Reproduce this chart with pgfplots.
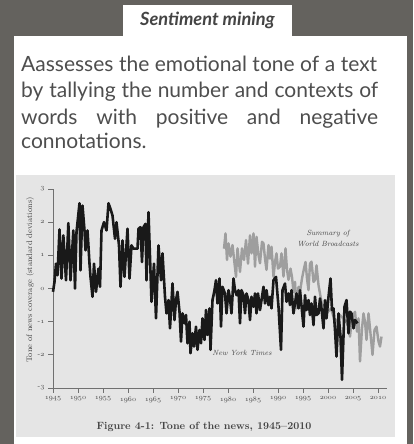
\documentclass[border=0pt]{standalone}
\usepackage{pgfplots}
\pgfplotsset{compat=1.18}
\usepackage{fontspec}
\newfontfamily\lato{Lato}
\definecolor{bgdark}{HTML}{64625E}
\definecolor{chartbg}{HTML}{E5E5E5}
\definecolor{txt}{HTML}{4E4E4E}
\definecolor{ctxt}{HTML}{444444}
\definecolor{swb}{HTML}{9E9E9E}
\definecolor{axisgray}{HTML}{707070}
\newcommand\osf[1]{{\usefont{OML}{cmm}{m}{it}#1}}

\pgfplotstableread{
year tone
1945.0 -0.1
1945.3 0.2
1945.6 0.75
1945.9 0.4
1946.3 1.78
1946.7 0.3
1947.07 1.6
1947.6 0.25
1948.07 1.97
1948.5 0.25
1949.07 1.75
1949.4 0.0
1949.7 1.7
1950.3 2.57
1950.5 0.55
1950.9 2.5
1951.3 1.75
1951.5 1.15
1951.9 1.75
1952.3 0.75
1952.5 0.35
1952.9 -0.25
1953.2 0.75
1953.6 -0.1
1954.1 0.6
1954.4 0.05
1954.7 1.75
1955.2 2.0
1955.7 1.75
1956.1 2.57
1956.5 2.4
1956.9 2.2
1957.4 1.5
1957.7 2.0
1958.2 1.3
1958.5 0.05
1958.9 1.45
1959.3 0.35
1959.9 1.8
1960.3 0.3
1960.7 1.3
1961.1 1.2
1961.9 1.2
1962.1 1.8
1962.5 1.85
1962.8 0.8
1963.1 1.85
1963.5 1.95
1963.7 0.25
1964.1 2.3
1964.4 0.95
1964.7 -0.4
1965.2 0.75
1965.6 -0.9
1966.1 1.3
1966.6 0.25
1966.9 1.06
1967.4 -0.25
1967.7 -0.75
1968.1 -0.35
1968.4 -1.2
1968.9 0.15
1969.3 -0.95
1969.6 -0.35
1969.9 -0.1
1970.3 -0.7
1970.6 -1.6
1970.9 -0.75
1971.3 -1.05
1971.6 -0.8
1971.9 -1.65
1972.3 -1.0
1972.5 -1.95
1972.9 -1.35
1973.2 -1.75
1973.6 -1.15
1973.9 -1.85
1974.3 -1.25
1974.6 -1.65
1974.9 -0.9
1975.3 -1.55
1975.6 -0.65
1975.9 -1.4
1976.3 -0.6
1976.5 -1.85
1976.9 -0.35
1977.3 -0.05
1977.6 0.25
1977.9 -0.45
1978.3 0.3
1978.6 -1.15
1978.9 0.05
1979.4 -0.15
1979.7 -0.75
1980.1 -0.05
1980.4 -0.3
1980.7 -0.75
1981.1 0.3
1981.4 -0.05
1981.7 -0.2
1982.1 -0.05
1982.4 -1.05
1982.7 -0.05
1983.1 -0.2
1983.4 -0.75
1983.7 -0.15
1984.1 -0.35
1984.4 -0.95
1984.7 -0.25
1985.1 -0.55
1985.4 -0.15
1985.7 -0.75
1986.0 -0.15
1986.4 -0.65
1987.1 0.05
1987.4 -0.45
1987.7 -0.05
1988.1 -0.5
1988.4 -0.25
1988.7 -0.6
1989.1 0.25
1989.6 0.35
1990.1 -0.55
1990.6 -1.85
1990.9 -0.05
1991.4 0.15
1991.7 -0.4
1992.1 -0.15
1992.4 -0.5
1992.7 -0.05
1993.1 -0.75
1993.7 -0.15
1994.1 -0.6
1994.4 -0.05
1995.1 -1.15
1995.4 -0.2
1995.7 -0.65
1996.1 -0.35
1996.4 -0.8
1996.7 -0.45
1997.1 -1.1
1997.4 -0.25
1997.7 -0.8
1998.1 -0.75
1998.4 -0.3
1998.7 -0.6
1999.1 -1.2
1999.4 -0.35
1999.7 -0.9
2000.1 -0.25
2000.5 0.3
2000.8 -0.65
2001.1 -0.6
2001.4 -1.25
2001.7 -2.05
2002.1 -0.75
2002.5 -1.45
2002.8 -2.75
2003.3 -0.55
2003.7 -0.35
2004.1 -1.35
2004.4 -0.7
2004.7 -0.75
2005.1 -1.2
2005.4 -0.95
2005.9 -1.05
}\nyt

\pgfplotstableread{
year tone
1979.2 1.2
1979.5 1.66
1979.8 0.86
1980.1 1.36
1980.5 0.96
1980.9 1.31
1981.2 0.9
1981.6 0.35
1981.9 1.21
1982.4 0.5
1982.8 1.21
1983.2 0.86
1983.6 1.46
1984.0 0.75
1984.4 1.6
1984.7 1.06
1985.1 1.66
1985.4 0.66
1985.7 1.56
1986.1 1.0
1986.4 0.76
1986.8 1.41
1987.1 1.36
1987.4 0.9
1987.7 0.56
1988.1 1.31
1988.4 0.9
1988.7 1.26
1989.1 0.35
1989.4 0.8
1989.7 1.06
1990.0 0.6
1990.4 0.66
1990.7 1.06
1991.1 0.36
1991.5 1.21
1991.8 0.56
1992.1 0.26
1992.5 0.6
1992.8 0.35
1993.1 -0.1
1993.4 0.2
1993.7 -0.6
1994.1 0.05
1994.4 -0.1
1994.8 0.3
1995.2 0.6
1995.5 0.8
1995.8 0.3
1996.1 -0.05
1996.4 0.75
1996.7 0.81
1997.1 0.2
1997.4 0.25
1997.7 0.7
1998.1 0.1
1998.4 -0.15
1998.8 -0.5
1999.4 -0.5
2000.0 -0.7
2000.6 -0.6
2001.2 -0.9
2001.8 -1.0
2002.4 -0.8
2003.0 -0.9
2003.6 -1.0
2004.0 -1.1
2004.4 -1.45
2004.8 -0.9
2005.4 -0.7
2005.8 -1.3
2006.1 -0.9
2006.4 -2.2
2006.8 -1.2
2007.1 -0.75
2007.4 -1.0
2007.7 -1.55
2008.1 -0.75
2008.4 -1.2
2008.9 -2.0
2009.3 -1.25
2009.7 -1.15
2010.1 -1.6
2010.4 -1.75
2010.7 -1.45
}\swbdata

\begin{document}
\begin{tikzpicture}[x=1pt,y=1pt]
\useasboundingbox (0,0) rectangle (413,444);
\fill[bgdark] (0,0) rectangle (413,444);
\fill[white] (123,406) rectangle (291.5,439);
\fill[white] (13.5,0) rectangle (406.5,407.5);
\node[anchor=base, inner sep=0pt, text=ctxt, font=\lato\bfseries\itshape\fontsize{18.2}{20}\selectfont] at (207.5,418) {Sentiment mining};
\begin{scope}[every node/.style={anchor=base west, inner sep=0pt, text=txt, font=\lato\fontsize{21}{25}\selectfont}]
\node at (21,372.5) {\makebox[356pt][s]{Aassesses the emotional tone of a text}};
\node at (21,346.8) {\makebox[357pt][s]{by tallying the number and contexts of}};
\node at (21,319.3) {\makebox[357pt][s]{words with positive and negative}};
\node at (21,295.7) {connotations.};
\end{scope}
\fill[chartbg] (16,7) rectangle (395,269);
\node[rotate=90, anchor=center, inner sep=0pt, text=ctxt, font=\fontsize{8}{9}\selectfont] at (30,164) {Tone of news coverage (standard deviations)};
\node[anchor=base, inner sep=0pt, text=ctxt, font=\bfseries\fontsize{10.5}{12}\selectfont] at (204,14) {Figure 4-1: Tone of the news, 1945--2010};
\begin{axis}[
  at={(53pt,56pt)}, anchor=south west,
  scale only axis, width=334pt, height=199pt,
  xmin=1945, xmax=2011.8, ymin=-3, ymax=3,
  axis x line=bottom, axis y line=left,
  axis line style={-, axisgray, line width=0.8pt},
  tick style={axisgray, line width=0.8pt},
  tick align=outside, major tick length=5pt,
  xtick={1945,1950,1955,1960,1965,1970,1975,1980,1985,1990,1995,2000,2005,2010},
  xticklabels={\osf{1945},\osf{1950},\osf{1955},\osf{1960},\osf{1965},\osf{1970},\osf{1975},\osf{1980},\osf{1985},\osf{1990},\osf{1995},\osf{2000},\osf{2005},\osf{2010}},
  ytick={-3,-2,-1,0,1,2,3},
  yticklabels={-\osf{3},-\osf{2},-\osf{1},\osf{0},\osf{1},\osf{2},\osf{3}},
  ticklabel style={font=\fontsize{7}{8}\selectfont, text=ctxt},
  clip=false,
]
\addplot[swb, line width=2.4pt, line join=round] table[x=year,y=tone] {\swbdata};
\addplot[black!90, line width=2.6pt, line join=round] table[x=year,y=tone] {\nyt};
\node[align=center, text=ctxt, font=\itshape\fontsize{7.5}{11}\selectfont] at (axis cs:2000,1.5) {Summary of\\World Broadcasts};
\node[text=ctxt, font=\itshape\fontsize{7.5}{9}\selectfont] at (axis cs:1982.8,-1.94) {New York Times};
\end{axis}
\end{tikzpicture}
\end{document}
